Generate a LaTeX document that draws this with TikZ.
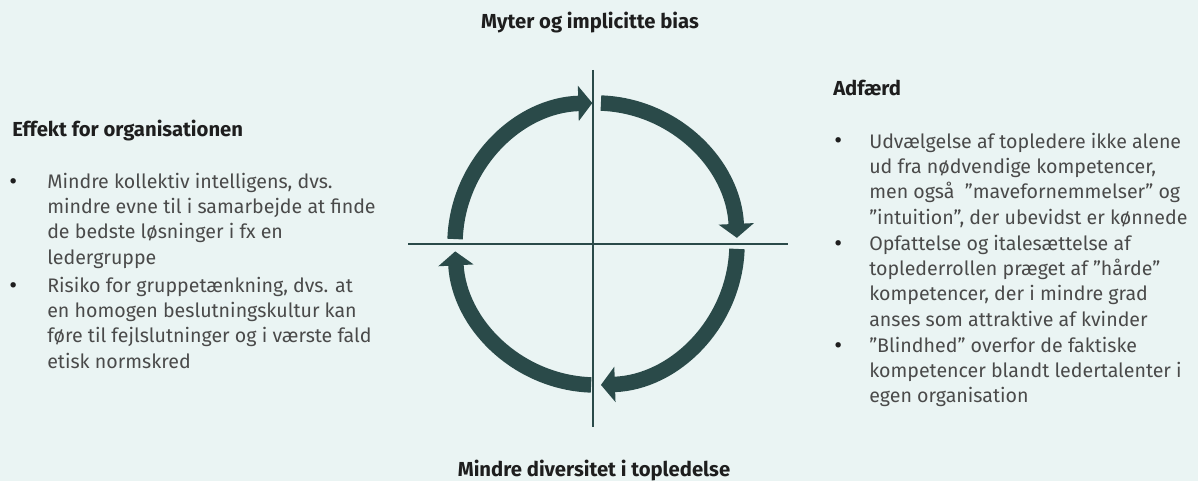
\documentclass[tikz,border=0pt]{standalone}
\usepackage{fontspec}
\setmainfont{Fira Sans}
\usepackage{xcolor}
\usepackage{tikz}
\usetikzlibrary{arrows.meta}

\definecolor{bgmint}{HTML}{EAF4F3}
\definecolor{cycteal}{HTML}{2A4A49}
\definecolor{bodygrey}{HTML}{4A4A4A}
\definecolor{headblack}{HTML}{1E1E1E}

\begin{document}
\begin{tikzpicture}[x=0.75pt,y=-0.75pt,
  head/.style={anchor=base west,inner sep=0pt,text=headblack,font=\fontsize{15.2}{19}\selectfont\bfseries},
  bodytxt/.style={anchor=base west,inner sep=0pt,align=left,text=bodygrey,font=\fontsize{14.7}{19.05}\selectfont},
  dot/.style={anchor=base west,inner sep=0pt,text=headblack,font=\fontsize{18}{19}\selectfont},
  axis/.style={draw=cycteal,line width=0.8pt},
  cyc/.style={draw=cycteal,line width=11.6pt,-{Triangle[width=26pt,length=10.5pt]}}]
\useasboundingbox (0,0) rectangle (1198,481);
\fill[bgmint] (0,0) rectangle (1198,481);

\coordinate (C) at (596,244);
\coordinate (N) at (593,70);
\coordinate (S) at (593,427);
\coordinate (W) at (408,244);
\coordinate (E) at (788,244);
\draw[axis] (N) -- (S);
\draw[axis] (W) -- (E);

\draw[cyc] (C) ++(-178:141) arc[start angle=-178,end angle=-91.5,radius=141];
\draw[cyc] (C) ++(-88:141) arc[start angle=-88,end angle=-2.5,radius=141];
\draw[cyc] (C) ++(2:141) arc[start angle=2,end angle=88,radius=141];
\draw[cyc] (C) ++(92:141) arc[start angle=92,end angle=177,radius=141];

\node[head,anchor=base] (myter) at (590,29) {Myter og implicitte bias};
\node[head,anchor=base] (divers) at (594,476) {Mindre diversitet i topledelse};

% multi-line nodes: base is the last line
\node[head] (effekt) at (12,137) {Effekt for organisationen};
\node[dot] (d1) at (9,189) {•};
\node[bodytxt] (e1) at (47,264.2) {Mindre kollektiv intelligens, dvs.\\mindre evne til i samarbejde at finde\\de bedste løsninger i fx en\\ledergruppe};
\node[dot] (d2) at (9,293) {•};
\node[bodytxt] (e2) at (47,368.2) {Risiko for gruppetænkning, dvs. at\\en homogen beslutningskultur kan\\føre til fejlslutninger og i værste fald\\etisk normskred};

\node[head] (adfaerd) at (833,96) {Adfærd};
\node[dot] (d3) at (834,149) {•};
\node[bodytxt] (a1) at (869,224.2) {Udvælgelse af topledere ikke alene\\ud fra nødvendige kompetencer,\\men også ~”mavefornemmelser” og\\”intuition”, der ubevidst er kønnede};
\node[dot] (d4) at (834,251) {•};
\node[bodytxt] (a2) at (869,326.2) {Opfattelse og italesættelse af\\toplederrollen præget af ”hårde”\\kompetencer, der i mindre grad\\anses som attraktive af kvinder};
\node[dot] (d5) at (834,353) {•};
\node[bodytxt] (a3) at (869,402.8) {”Blindhed” overfor de faktiske\\kompetencer blandt ledertalenter i\\egen organisation};
\end{tikzpicture}
\end{document}
